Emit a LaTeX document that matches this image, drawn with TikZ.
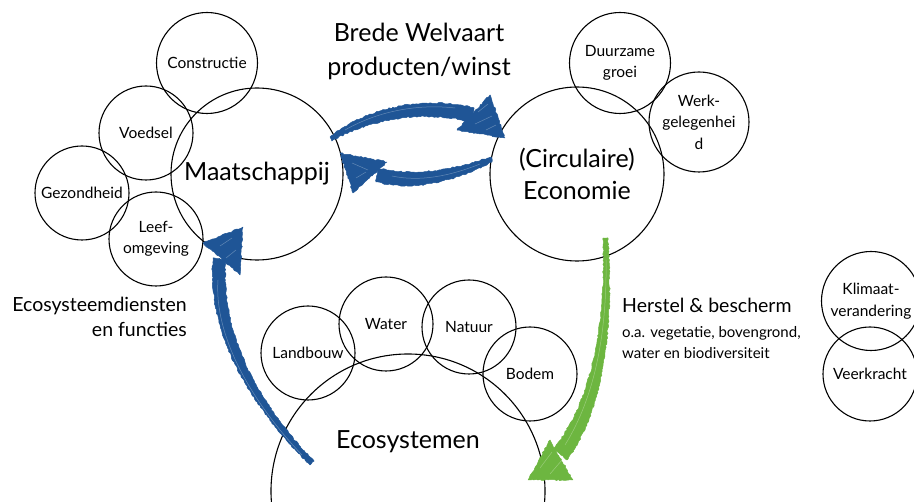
\documentclass[tikz,border=0pt]{standalone}
\usepackage{fontspec}
\setmainfont{Lato}
\usetikzlibrary{decorations.pathmorphing}
\definecolor{brushblue}{HTML}{1F5596}
\definecolor{brushgreen}{HTML}{6DB640}
\tikzset{
  bub/.style={circle, draw, line width=1.1pt, inner sep=0pt, align=center,
    font=\fontsize{15.5}{21.5}\selectfont},
  bigbub/.style={circle, draw, line width=1.1pt, inner sep=0pt, align=center,
    font=\fontsize{25}{32}\selectfont},
  bigtxt/.style={font=\fontsize{25}{34}\selectfont, align=center, inner sep=0pt},
  midtxt/.style={font=\fontsize{19.5}{25}\selectfont, inner sep=0pt},
  smalltxt/.style={font=\fontsize{15}{21}\selectfont, inner sep=0pt},
  rough/.style={decorate, decoration={random steps, segment length=2pt, amplitude=0.7pt}},
  brushb/.style={fill=brushblue, draw=brushblue, line width=0.5pt, line join=round},
  brushg/.style={fill=brushgreen, draw=brushgreen, line width=0.5pt, line join=round},
  streak/.style={draw=white, line width=0.5pt, opacity=0.3, line cap=round},
}
\begin{document}
\begin{tikzpicture}[x=1pt,y=-1pt]
\pgfmathsetseed{7}
\useasboundingbox (0,0) rectangle (914,502);

% Maatschappij cluster
\node[bigbub, minimum size=172pt] (maat) at (257,174) {Maatschappij};
\node[bub, minimum size=101pt] (constructie) at (207,63) {Constructie};
\node[bub, minimum size=94pt] (voedsel) at (146,133) {Voedsel};
\node[bub, minimum size=94pt] (gezond) at (82,193) {Gezondheid};
\node[bub, minimum size=94pt] (leef) at (156,239) {Leef-\\omgeving};

% Economie cluster
\node[bigbub, minimum size=174pt] (eco) at (577,174) {(Circulaire)\\Economie};
\node[bub, minimum size=101pt] (duurzaam) at (620,63) {Duurzame\\groei};
\node[bub, minimum size=100pt] (werk) at (699,122) {Werk-\\gelegenhei\\d};

% Ecosystemen cluster
\node[circle, draw, line width=1.1pt, minimum size=274pt, inner sep=0pt] (ecosys) at (408,491) {};
\node[bigtxt] (ecosystxt) at (408,442) {Ecosystemen};
\node[bub, minimum size=94pt] (landbouw) at (308,353) {Landbouw};
\node[bub, minimum size=94pt] (water) at (386,324) {Water};
\node[bub, minimum size=94pt] (natuur) at (469,327) {Natuur};
\node[bub, minimum size=94pt] (bodem) at (530,374) {Bodem};

% Klimaat
\node[bub, minimum size=99pt] (klimaat) at (871,301) {Klimaat-\\verandering};
\node[bub, minimum size=94pt] (veerkracht) at (870,374) {Veerkracht};

% Labels
\node[bigtxt] (brede) at (419,51) {Brede Welvaart\\producten/winst};
\node[midtxt, align=right, anchor=east] (diensten) at (187,317) {Ecosysteemdiensten\\en functies};
\node[midtxt, anchor=west] (herstel) at (622,305) {Herstel \& bescherm};
\node[smalltxt, anchor=west, align=left] (oa) at (622,343) {o.a. vegetatie, bovengrond,\\water en biodiversiteit};

% Top arrow: Maatschappij -> Economie
\fill[brushb, rough] (330,137) .. controls (370,105) and (430,96) .. (474,108)
  -- (470,122) .. controls (430,111) and (375,116) .. (332,141) -- cycle;
\fill[brushb, rough] (490,95) -- (505,138) -- (457,130) -- cycle;
\draw[streak] (345,130) .. controls (380,110) and (420,104) .. (455,108);
\draw[streak] (478,112) -- (488,104);
\draw[streak] (475,124) -- (492,116);
\draw[streak] (486,130) -- (496,125);

% Bottom arrow: Economie -> Maatschappij
\fill[brushb, rough] (491,157) .. controls (452,170) and (415,177) .. (378,168)
  -- (376,182) .. controls (415,192) and (455,181) .. (492,162) -- cycle;
\fill[brushb, rough] (340,153) -- (387,162) -- (353,193) -- cycle;
\draw[streak] (480,164) .. controls (450,176) and (420,182) .. (392,176);
\draw[streak] (352,163) -- (368,170);
\draw[streak] (356,178) -- (366,172);

% Left arrow: Ecosystemen -> Maatschappij
\fill[brushb, rough] (310,465) .. controls (246,402) and (207,330) .. (213,258)
  -- (226,260) .. controls (220,330) and (255,400) .. (314,461) -- cycle;
\fill[brushb, rough] (203,243) -- (243,227) -- (240,275) -- cycle;
\draw[streak] (302,455) .. controls (250,400) and (214,335) .. (218,280);
\draw[streak] (220,246) -- (232,238);
\draw[streak] (226,258) -- (236,250);

% Green arrow: Economie -> Ecosystemen
\fill[brushg, rough] (603,238) .. controls (606,320) and (593,400) .. (554,448)
  -- (567,460) .. controls (607,405) and (613,320) .. (608,238) -- cycle;
\fill[brushg, rough] (550,440) -- (528,480) -- (573,480) -- cycle;
\draw[streak] (606,260) .. controls (607,330) and (596,395) .. (565,445);
\draw[streak] (540,468) -- (552,452);
\draw[streak] (550,474) -- (562,460);
\end{tikzpicture}
\end{document}
